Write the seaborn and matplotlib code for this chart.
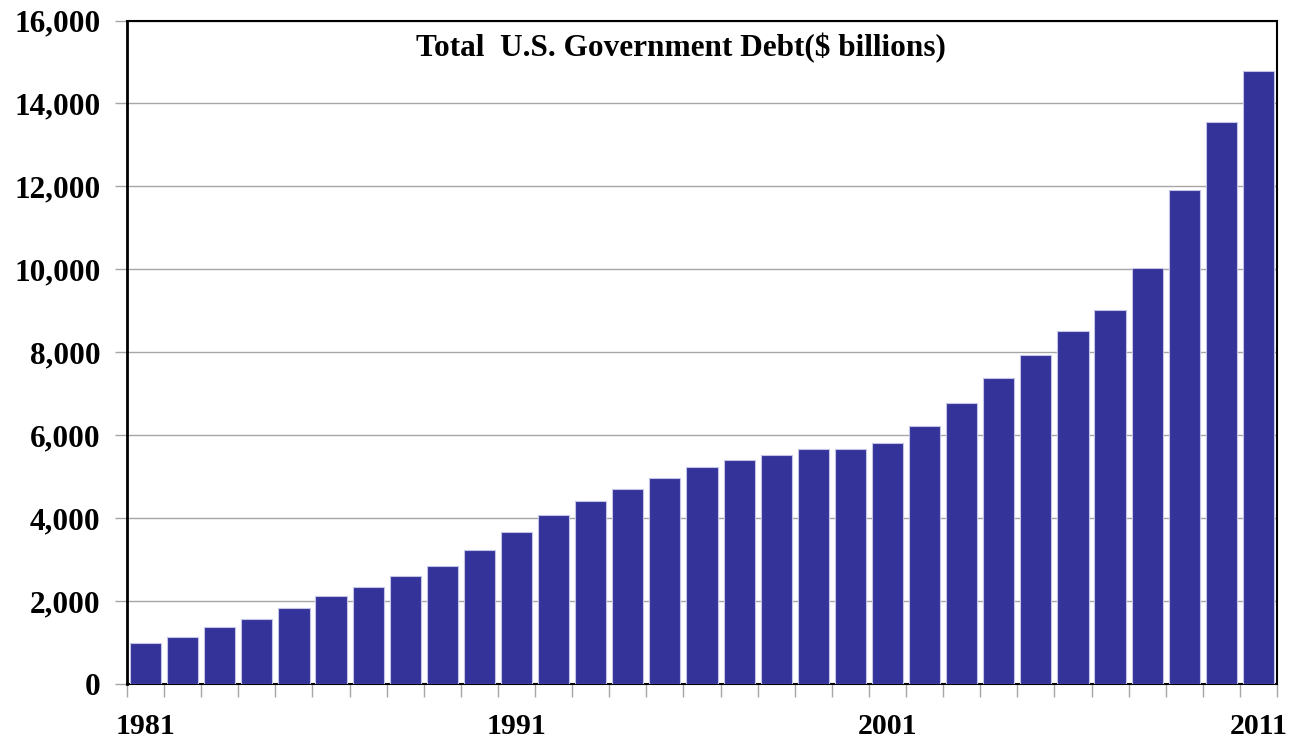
import matplotlib
matplotlib.use("Agg")
import matplotlib.pyplot as plt
import seaborn as sns
import pandas as pd
import numpy as np
from matplotlib.ticker import FuncFormatter, FixedLocator

# Total U.S. government debt, $ billions
years = list(range(1981, 2012))
debt = [998, 1142, 1377, 1572, 1823, 2125, 2340, 2602, 2857, 3233,
        3665, 4065, 4411, 4693, 4974, 5225, 5413, 5526, 5656, 5674,
        5807, 6228, 6783, 7379, 7933, 8507, 9008, 10025, 11910, 13562,
        14790]
label_years = ['1981', '1991', '2001', '2011']

df = pd.DataFrame({'year': [str(y) for y in years], 'debt': debt})

sns.set_style('white')
plt.rcParams['font.family'] = ['Liberation Serif', 'DejaVu Serif']
plt.rcParams['font.weight'] = 'bold'
plt.rcParams['text.color'] = 'black'
plt.rcParams['xtick.labelcolor'] = 'black'
plt.rcParams['ytick.labelcolor'] = 'black'

fig = plt.figure(figsize=(13, 7.41), dpi=100)
ax = fig.add_axes([0.0977, 0.0769, 0.8846, 0.8954])

sns.barplot(data=df, x='year', y='debt', color='#333399', saturation=1,
            width=0.84, edgecolor='#c4c4e6', linewidth=0.8, ax=ax, zorder=3)

ax.set_ylim(0, 16000)
ax.set_xlim(-0.5, len(years) - 0.5)
ax.set_yticks(np.arange(0, 16001, 2000))
ax.yaxis.set_major_formatter(FuncFormatter(lambda v, p: format(int(v), ',')))
ax.yaxis.grid(True, color='#a6a6a6', linewidth=1, zorder=0)
ax.set_axisbelow(True)

# category labels only every ten years, tick marks between bars
pos = [years.index(int(y)) for y in label_years]
ax.xaxis.set_major_locator(FixedLocator(pos))
ax.set_xticklabels(label_years)
ax.xaxis.set_minor_locator(FixedLocator(np.arange(-0.5, len(years), 1)))
ax.tick_params(axis='x', which='major', length=0, pad=21, labelsize=21.5)
ax.tick_params(axis='x', which='minor', length=9, width=1, color='#a6a6a6', bottom=True)
ax.tick_params(axis='y', which='major', length=9, width=1, color='#a6a6a6', left=True,
               labelsize=22.5, pad=10)
for lab in ax.get_xticklabels() + ax.get_yticklabels():
    lab.set_fontweight('bold')
    lab.set_color('black')

for s in ax.spines.values():
    s.set_visible(True)
    s.set_color('black')
    s.set_linewidth(1.5)
ax.spines['left'].set_linewidth(2)

ax.set_xlabel('')
ax.set_ylabel('')
ax.text(0.482, 0.982, 'Total  U.S. Government Debt($ billions)', transform=ax.transAxes,
        ha='center', va='top', fontsize=22.5, fontweight='bold', color='black')

plt.savefig('out.png', dpi=100)
